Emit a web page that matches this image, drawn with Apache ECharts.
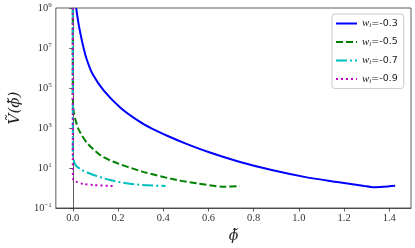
<!DOCTYPE html>
<html>
<head>
<meta charset="utf-8">
<script src="https://cdn.jsdelivr.net/npm/echarts@6/dist/echarts.min.js"></script>
<style>html,body{margin:0;padding:0;background:#fff;}#c{width:415px;height:248px;}</style>
</head>
<body>
<div id="c"></div>
<script>
// ---- data ----
const xTicks = [0.0, 0.2, 0.4, 0.6, 0.8, 1.0, 1.2, 1.4];
const yTicks = [1e-1, 1e1, 1e3, 1e5, 1e7, 1e9];
const seriesNames = ['-0.3', '-0.5', '-0.7', '-0.9'];

const phiA = [0.0148, 0.0261, 0.0409, 0.0596, 0.0888, 0.139, 0.212, 0.292, 0.35, 0.42, 0.5, 0.6, 0.74, 0.88, 1.03, 1.17, 1.29, 1.33, 1.374, 1.426];
const vA   = [1e9, 1.48e8, 2.19e7, 3.16e6, 4.68e5, 6.9e4, 1e4, 2.19e3, 933, 398, 166, 63, 20, 7.9, 3.5, 2.0, 1.26, 1.1, 1.16, 1.3];

const phiB = [0.0, 0.0, 0.002, 0.006, 0.012, 0.023, 0.034, 0.063, 0.12, 0.177, 0.308, 0.46, 0.547, 0.664, 0.738];
const vB   = [1e9, 4e4, 1e4, 5e3, 2.5e3, 1e3, 560, 178, 45, 21, 6.6, 2.5, 1.72, 1.16, 1.26];

const phiC = [0.0, 0.0, 0.001, 0.012, 0.041, 0.092, 0.164, 0.237, 0.308, 0.41];
const vC   = [1e9, 79, 35, 14, 7.9, 4.5, 2.5, 1.72, 1.41, 1.26];

const phiD = [0.0, 0.0, 0.0015, 0.012, 0.047, 0.09, 0.178];
const vD   = [1e9, 10, 2.8, 2.1, 1.58, 1.41, 1.26];

// ---- chart ----
const zip = (xs, ys) => xs.map((x, i) => [x, ys[i]]);
const colors = ['#0000ff', '#008000', '#00bfbf', '#bf00bf'];
const dashes = ['solid', [7, 3], [11, 3, 2, 3], [2, 3]];
const datas = [zip(phiA, vA), zip(phiB, vB), zip(phiC, vC), zip(phiD, vD)];
const serif = 'Liberation Serif';
const mathFont = 'DejaVu Serif';
const sup = v => {
  const e = Math.round(Math.log10(v));
  return '{b|10}{s|' + (e < 0 ? '\u2212' + (-e) : e) + '}';
};

const chart = echarts.init(document.getElementById('c'), null, {renderer: 'canvas'});
chart.setOption({
  animation: false,
  grid: {left: 50, right: 4, top: 8, bottom: 40, show: true, borderColor: '#333', borderWidth: 0.8},
  legend: {
    orient: 'vertical', left: 332, top: 14,
    padding: [4, 6, 4, 3], itemGap: 7.5, itemWidth: 21, itemHeight: 10,
    backgroundColor: '#fff', borderColor: '#ccc', borderWidth: 1, borderRadius: 3,
    itemStyle: {opacity: 0},
    data: seriesNames,
    formatter: n => '{w|w}{i|i}{t|=' + n + '}',
    textStyle: {
      color: '#222',
      rich: {
        w: {fontFamily: serif, fontStyle: 'italic', fontSize: 11, color: '#222'},
        i: {fontFamily: serif, fontStyle: 'italic', fontSize: 7, color: '#222', verticalAlign: 'bottom', padding: [4, 0, 0, 0]},
        t: {fontFamily: 'DejaVu Sans', fontSize: 9.5, color: '#222'}
      }
    }
  },
  xAxis: {
    type: 'value', min: -0.075, max: 1.496,
    name: '\u03D5\u0303', nameLocation: 'middle', nameGap: 20,
    nameTextStyle: {fontFamily: mathFont, fontStyle: 'italic', fontSize: 14, color: '#222'},
    axisLine: {show: true, lineStyle: {color: '#333', width: 0.8}},
    axisTick: {show: true, inside: false, length: 3.5, lineStyle: {color: '#333', width: 0.8}, customValues: xTicks},
    axisLabel: {customValues: xTicks, fontFamily: serif, fontSize: 10.5, color: '#333', margin: 5,
      formatter: v => v.toFixed(1)},
    splitLine: {show: false}
  },
  yAxis: {
    type: 'log', logBase: 10, min: 1e-1, max: 1e9, interval: 2,
    name: 'V\u0303(\u03D5\u0303)', nameLocation: 'middle', nameGap: 24,
    nameTextStyle: {fontFamily: mathFont, fontStyle: 'italic', fontSize: 15, color: '#222'},
    axisLine: {show: true, lineStyle: {color: '#333', width: 0.8}},
    axisTick: {show: true, inside: false, length: 3.5, lineStyle: {color: '#333', width: 0.8}},
    axisLabel: {
      fontFamily: serif, color: '#333', margin: 4,
      formatter: v => sup(v),
      rich: {
        b: {fontFamily: serif, fontSize: 10.5, color: '#333'},
        s: {fontFamily: serif, fontSize: 7, color: '#333', verticalAlign: 'top', padding: [0, 0, 5, 0]}
      }
    },
    splitLine: {show: false}
  },
  series: datas.map((d, k) => ({
    name: seriesNames[k], type: 'line', data: d, showSymbol: false, symbol: 'none',
    clip: true, smooth: 0.25,
    lineStyle: {color: colors[k], width: 2, type: dashes[k]},
    itemStyle: {color: colors[k]}
  }))
});
</script>
</body>
</html>
